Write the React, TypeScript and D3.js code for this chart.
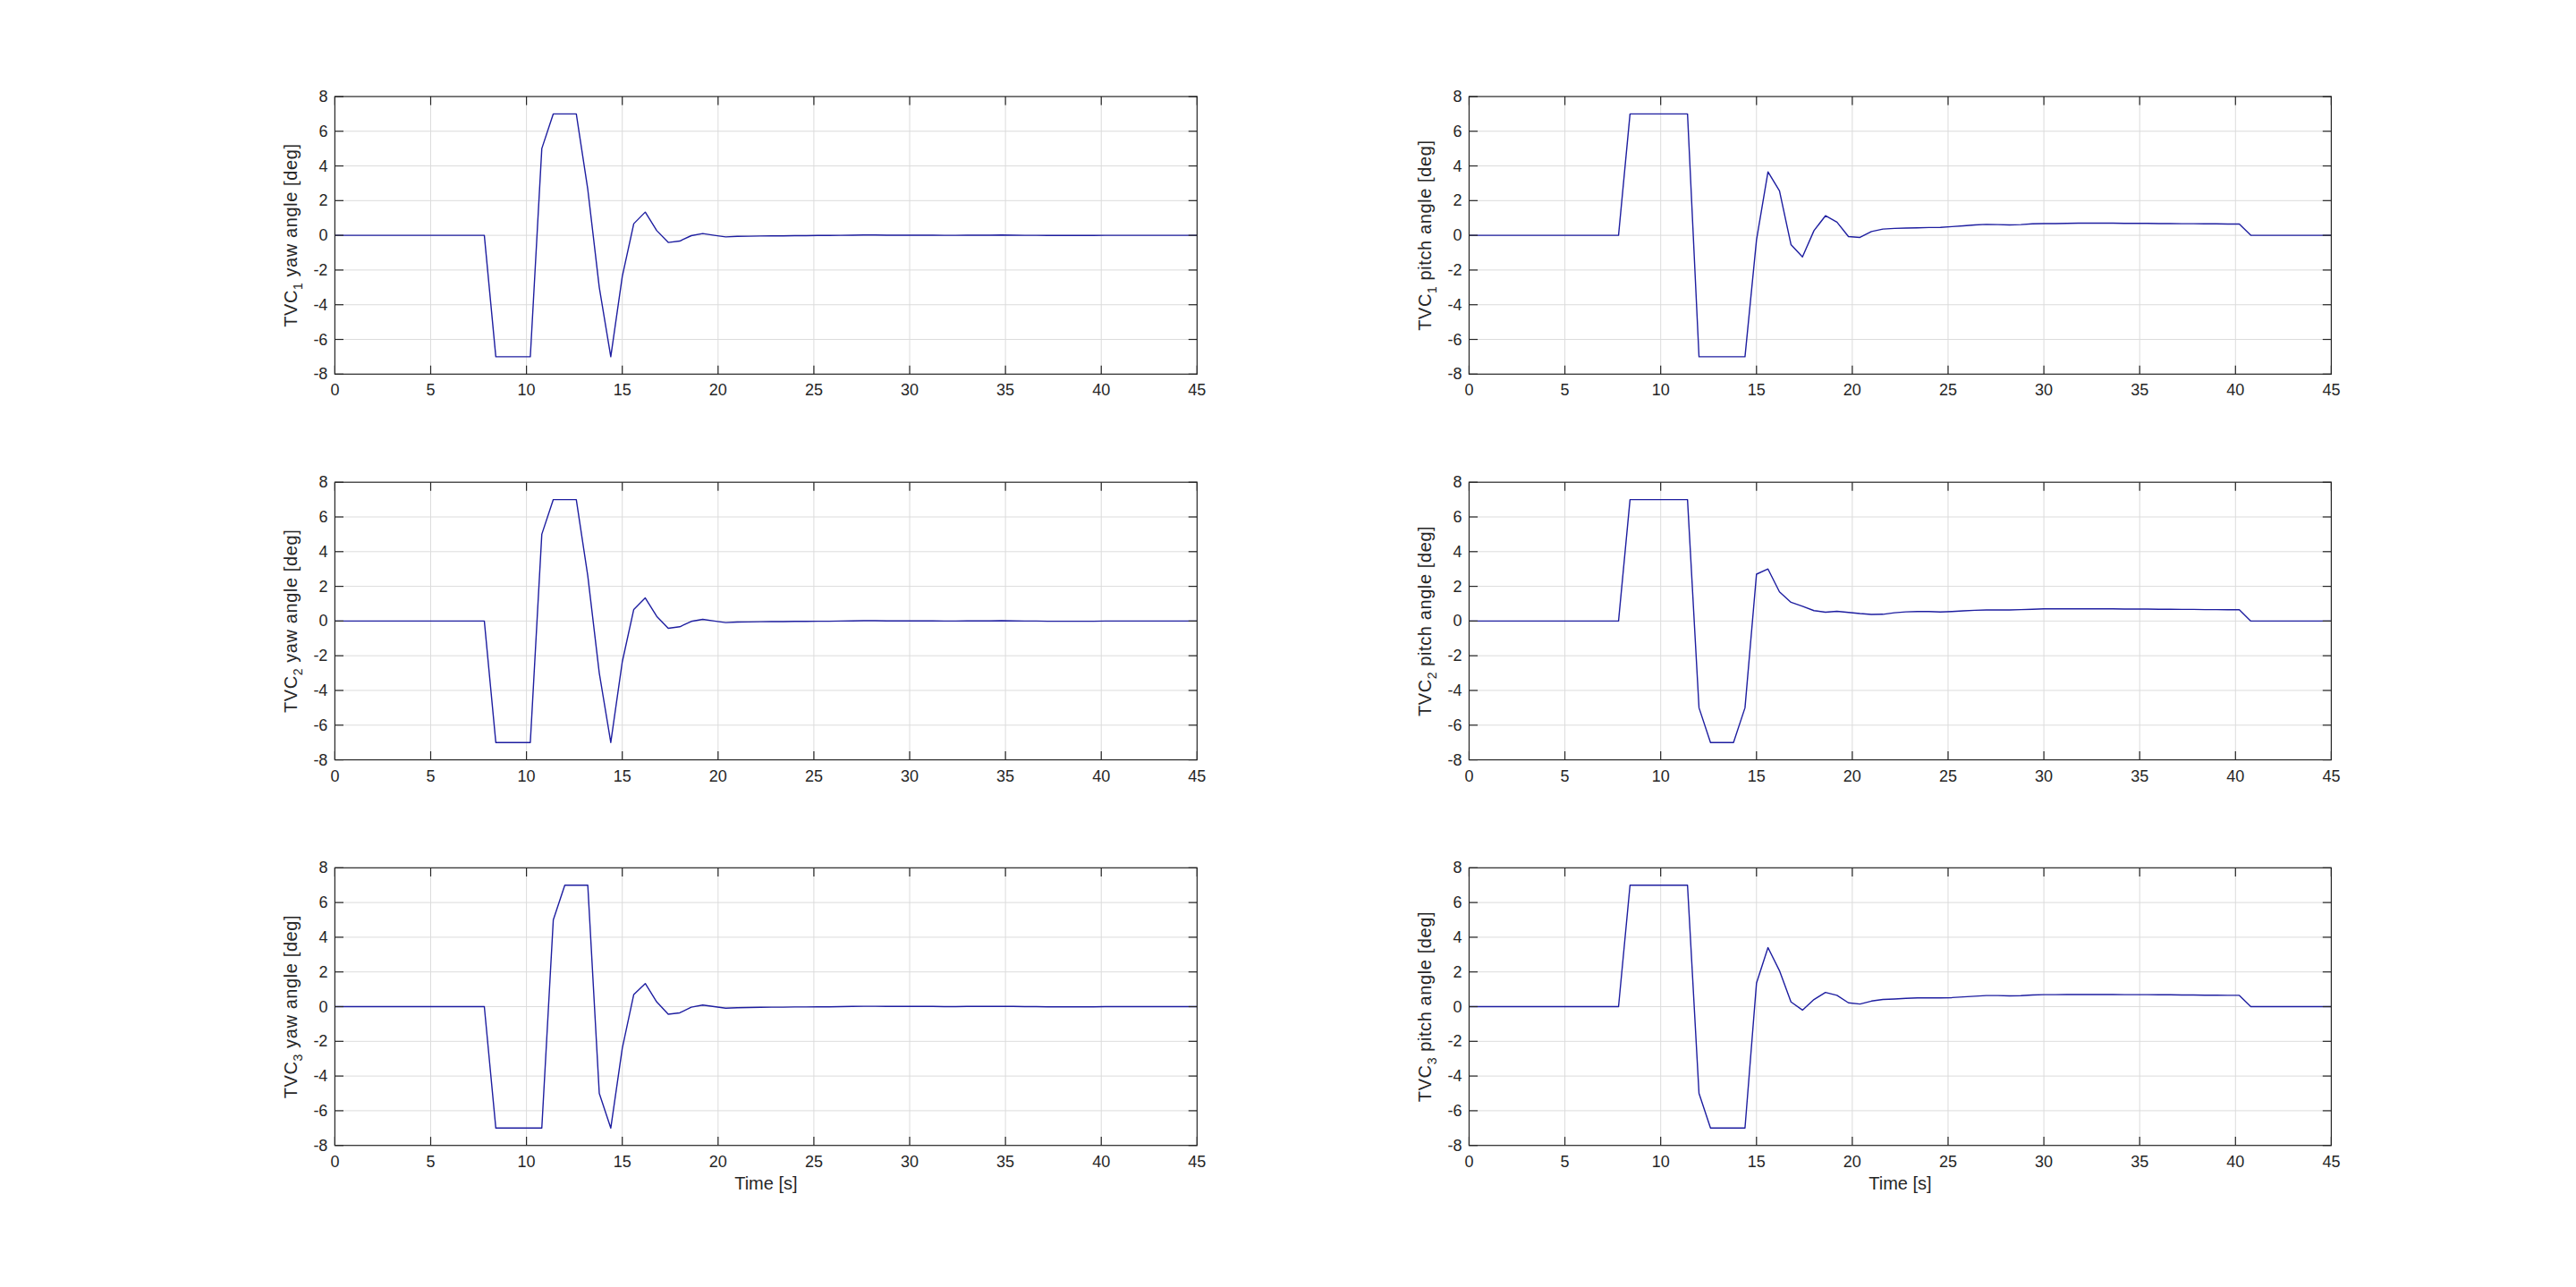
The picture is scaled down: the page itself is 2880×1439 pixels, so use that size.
import React, { useEffect, useRef } from "react";
import * as d3 from "d3";

const W = 2880;
const H = 1439;

// sample times: 0 .. 45 s, step 0.6 s
const sampleStep = 0.6;
const sampleCount = 76;

const xTicks = [0, 5, 10, 15, 20, 25, 30, 35, 40, 45];
const yTicks = [-8, -6, -4, -2, 0, 2, 4, 6, 8];

const yaw1 = [
  0, 0, 0, 0, 0, 0, 0, 0, 0, 0, 0, 0, 0, 0,
  -7, -7, -7, -7, 5, 7, 7, 7, 2.65, -3.0, -7, -2.37, 0.67, 1.34, 0.27, -0.41,
  -0.33, -0.02, 0.1, 0.0, -0.09, -0.06, -0.05, -0.04, -0.03, -0.03, -0.02, -0.02, -0.01, -0.01,
  0.0, 0.01, 0.02, 0.02, 0.01, 0.01, 0.01, 0.01, 0.01, 0.0, 0.0, 0.01, 0.01, 0.01, 0.02, 0.01,
  0.0, 0.0, -0.01, -0.01, -0.01, -0.01, -0.01, 0, 0, 0, 0, 0, 0, 0, 0, 0,
];
const yaw2 = [
  0, 0, 0, 0, 0, 0, 0, 0, 0, 0, 0, 0, 0, 0,
  -7, -7, -7, -7, 5, 7, 7, 7, 2.6, -3.0, -7, -2.35, 0.67, 1.33, 0.27, -0.42,
  -0.33, -0.02, 0.1, 0.0, -0.09, -0.06, -0.05, -0.04, -0.03, -0.03, -0.02, -0.02, -0.01, -0.01,
  0.0, 0.01, 0.02, 0.02, 0.01, 0.01, 0.01, 0.01, 0.01, 0.0, 0.0, 0.01, 0.01, 0.01, 0.02, 0.01,
  0.0, 0.0, -0.01, -0.01, -0.01, -0.01, -0.01, 0, 0, 0, 0, 0, 0, 0, 0, 0,
];
const yaw3 = [
  0, 0, 0, 0, 0, 0, 0, 0, 0, 0, 0, 0, 0, 0,
  -7, -7, -7, -7, -7, 5, 7, 7, 7, -5, -7, -2.4, 0.7, 1.33, 0.27, -0.44,
  -0.36, -0.03, 0.09, 0.0, -0.09, -0.06, -0.05, -0.04, -0.03, -0.03, -0.02, -0.02, -0.01, -0.01,
  0.0, 0.01, 0.02, 0.02, 0.01, 0.01, 0.01, 0.01, 0.01, 0.0, 0.0, 0.01, 0.01, 0.01, 0.02, 0.01,
  0.0, 0.0, -0.01, -0.01, -0.01, -0.01, -0.01, 0, 0, 0, 0, 0, 0, 0, 0, 0,
];
const pitch1 = [
  0, 0, 0, 0, 0, 0, 0, 0, 0, 0, 0, 0, 0, 0,
  7, 7, 7, 7, 7, 7, -7, -7, -7, -7, -7, -0.27, 3.66, 2.56, -0.53, -1.24,
  0.27, 1.13, 0.76, -0.07, -0.12, 0.22, 0.36, 0.4, 0.42, 0.43, 0.45, 0.46, 0.5, 0.55,
  0.6, 0.63, 0.62, 0.6, 0.62, 0.66, 0.68, 0.68, 0.69, 0.7, 0.7, 0.7, 0.7, 0.69, 0.69, 0.69,
  0.68, 0.68, 0.67, 0.67, 0.66, 0.66, 0.65, 0.65, 0, 0, 0, 0, 0, 0, 0, 0,
];
const pitch2 = [
  0, 0, 0, 0, 0, 0, 0, 0, 0, 0, 0, 0, 0, 0,
  7, 7, 7, 7, 7, 7, -5, -7, -7, -7, -5, 2.7, 3.0, 1.68, 1.08, 0.85,
  0.6, 0.51, 0.56, 0.5, 0.43, 0.38, 0.39, 0.48, 0.53, 0.55, 0.55, 0.52, 0.55, 0.59,
  0.62, 0.64, 0.64, 0.64, 0.66, 0.68, 0.7, 0.7, 0.7, 0.7, 0.7, 0.7, 0.7, 0.69, 0.69, 0.69,
  0.68, 0.68, 0.67, 0.67, 0.66, 0.66, 0.65, 0.65, 0, 0, 0, 0, 0, 0, 0, 0,
];
const pitch3 = [
  0, 0, 0, 0, 0, 0, 0, 0, 0, 0, 0, 0, 0, 0,
  7, 7, 7, 7, 7, 7, -5, -7, -7, -7, -7, 1.35, 3.4, 2.07, 0.27, -0.2,
  0.41, 0.82, 0.65, 0.22, 0.15, 0.32, 0.41, 0.44, 0.48, 0.5, 0.5, 0.5, 0.52, 0.56,
  0.6, 0.64, 0.64, 0.62, 0.63, 0.67, 0.69, 0.69, 0.7, 0.7, 0.7, 0.7, 0.7, 0.69, 0.69, 0.69,
  0.68, 0.68, 0.67, 0.67, 0.66, 0.66, 0.65, 0.65, 0, 0, 0, 0, 0, 0, 0, 0,
];

const panelSeries = [yaw1, pitch1, yaw2, pitch2, yaw3, pitch3];
const panelIndex = ["1", "1", "2", "2", "3", "3"];
const panelKind = ["yaw", "pitch", "yaw", "pitch", "yaw", "pitch"];
const xLabel = "Time [s]";

// MATLAB subplot(3,2,k) normalized positions
const colLeft = [0.13, 0.5703];
const rowBottom = [0.7093, 0.4096, 0.11];
const axW = 0.3347;
const axH = 0.2157;

const tickFont = "Liberation Sans, Arial, sans-serif";
const labelFont = "Liberation Sans, Arial, sans-serif";

export default function App() {
  const ref = useRef<SVGSVGElement>(null);

  useEffect(() => {
    const svg = d3.select(ref.current);
    svg.selectAll("*").remove();
    svg.append("rect").attr("width", W).attr("height", H).attr("fill", "#ffffff");

    const times = d3.range(sampleCount).map((i) => +(i * sampleStep).toFixed(2));

    panelSeries.forEach((series, k) => {
      const col = k % 2;
      const row = Math.floor(k / 2);
      const x0 = colLeft[col] * W;
      const w = axW * W;
      const h = axH * H;
      const y0 = H - (rowBottom[row] + axH) * H;

      const x = d3.scaleLinear().domain([0, 45]).range([x0, x0 + w]);
      const y = d3.scaleLinear().domain([-8, 8]).range([y0 + h, y0]);

      const g = svg.append("g");

      // grid
      g.selectAll(".gx")
        .data(xTicks.slice(1, -1))
        .join("line")
        .attr("x1", (d) => x(d))
        .attr("x2", (d) => x(d))
        .attr("y1", y0)
        .attr("y2", y0 + h)
        .attr("stroke", "#dcdcdc")
        .attr("stroke-width", 1);
      g.selectAll(".gy")
        .data(yTicks.slice(1, -1))
        .join("line")
        .attr("x1", x0)
        .attr("x2", x0 + w)
        .attr("y1", (d) => y(d))
        .attr("y2", (d) => y(d))
        .attr("stroke", "#dcdcdc")
        .attr("stroke-width", 1);

      // data line
      const line = d3
        .line<number>()
        .x((_, i) => x(times[i]))
        .y((d) => y(d));
      g.append("path")
        .attr("d", line(series) as string)
        .attr("fill", "none")
        .attr("stroke", "#1e1ea0")
        .attr("stroke-width", 1.4)
        .attr("stroke-linejoin", "round");

      // box
      g.append("rect")
        .attr("x", x0)
        .attr("y", y0)
        .attr("width", w)
        .attr("height", h)
        .attr("fill", "none")
        .attr("stroke", "#262626")
        .attr("stroke-width", 1.2);

      const tl = 9.6;
      // ticks (inward, all four sides)
      xTicks.forEach((t) => {
        g.append("line").attr("x1", x(t)).attr("x2", x(t)).attr("y1", y0 + h).attr("y2", y0 + h - tl).attr("stroke", "#262626").attr("stroke-width", 1.2);
        g.append("line").attr("x1", x(t)).attr("x2", x(t)).attr("y1", y0).attr("y2", y0 + tl).attr("stroke", "#262626").attr("stroke-width", 1.2);
        g.append("text")
          .attr("x", x(t))
          .attr("y", y0 + h + 24)
          .attr("text-anchor", "middle")
          .attr("font-family", tickFont)
          .attr("font-size", 18)
          .attr("fill", "#262626")
          .text(String(t));
      });
      yTicks.forEach((t) => {
        g.append("line").attr("x1", x0).attr("x2", x0 + tl).attr("y1", y(t)).attr("y2", y(t)).attr("stroke", "#262626").attr("stroke-width", 1.2);
        g.append("line").attr("x1", x0 + w).attr("x2", x0 + w - tl).attr("y1", y(t)).attr("y2", y(t)).attr("stroke", "#262626").attr("stroke-width", 1.2);
        g.append("text")
          .attr("x", x0 - 8)
          .attr("y", y(t) + 6)
          .attr("text-anchor", "end")
          .attr("font-family", tickFont)
          .attr("font-size", 18)
          .attr("fill", "#262626")
          .text(String(t));
      });

      // y label
      const lab = g
        .append("text")
        .attr("transform", `translate(${x0 - 42},${y0 + h / 2}) rotate(-90)`)
        .attr("text-anchor", "middle")
        .attr("font-family", labelFont)
        .attr("font-size", 20)
        .attr("letter-spacing", 0.6)
        .attr("fill", "#262626");
      lab.append("tspan").text("TVC");
      lab.append("tspan").attr("font-size", 14).attr("dy", 6).text(panelIndex[k]);
      lab.append("tspan").attr("dy", -6).text(` ${panelKind[k]} angle [deg]`);

      if (row === 2) {
        g.append("text")
          .attr("x", x0 + w / 2)
          .attr("y", y0 + h + 49)
          .attr("text-anchor", "middle")
          .attr("font-family", labelFont)
          .attr("font-size", 20)
          .attr("fill", "#262626")
          .text(xLabel);
      }
    });
  }, []);

  return (
    <svg
      ref={ref}
      width={W}
      height={H}
      style={{ position: "absolute", left: 0, top: 0, display: "block" }}
    />
  );
}
